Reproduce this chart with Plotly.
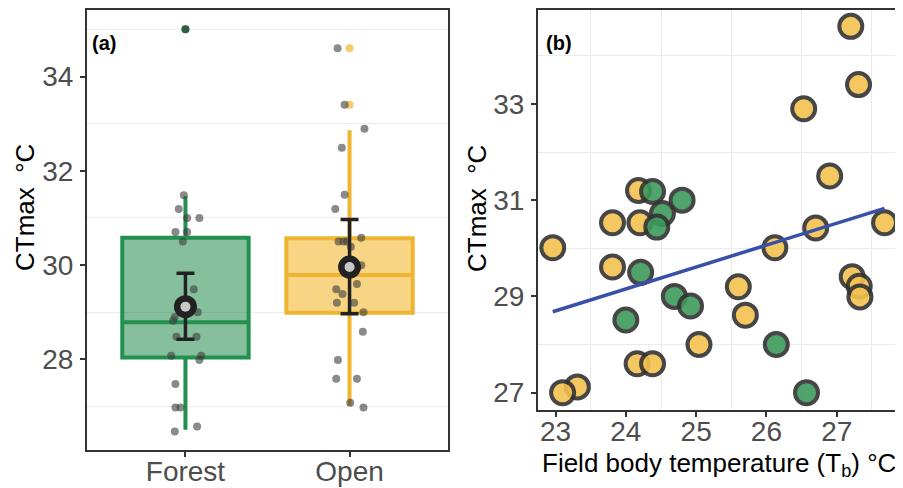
import plotly.graph_objects as go

# ---------------- Panel (a) data ----------------
habitats = ["Forest", "Open"]
habitat_pos = [1, 2]
box_q1 = [28.04, 28.99]
box_median = [28.79, 29.79]
box_q3 = [30.58, 30.57]
box_lower = [26.51, 27.02]
box_upper = [31.46, 32.86]
outlier_forest = [35.0]
outlier_open = [34.6, 33.4]
mean_ct = [29.12, 29.96]
mean_hi = [29.83, 30.97]
mean_lo = [28.43, 28.97]

forest_ct = [31.48, 31.19, 31.0, 31.0, 30.70, 30.70, 30.5, 29.49, 29.0, 28.9, 28.82,
             28.48, 28.48, 28.08, 27.99, 28.08, 27.48, 26.98, 26.98, 26.58, 26.47, 35.0]
forest_jitter = [-0.010, -0.041, 0.010, 0.085, -0.061, 0.010, -0.016, 0.051, 0.075, -0.065, -0.075,
                 -0.055, 0.067, -0.087, 0.085, 0.096, -0.061, -0.061, -0.030, 0.071, -0.065, 0.0]
open_ct = [34.6, 33.4, 32.89, 32.49, 31.49, 31.19, 30.58, 30.5, 30.5, 30.5, 30.39, 30.0,
           29.6, 29.49, 29.39, 29.2, 29.2, 29.0, 28.59, 27.99, 27.59, 27.59, 27.08, 26.98]
open_jitter = [-0.073, -0.030, 0.091, -0.047, -0.030, -0.087, 0.071, -0.067, -0.037, -0.016, 0.008, 0.071,
               0.045, -0.081, -0.043, -0.077, 0.028, 0.085, 0.081, -0.071, -0.081, 0.045, 0.004, 0.085]

# ---------------- Panel (b) data ----------------
tb = [27.2, 27.31, 26.53, 26.9, 24.18, 24.38, 24.8, 24.52, 23.81, 24.2, 24.44, 27.68, 26.7,
      22.96, 26.12, 23.81, 24.21, 25.6, 27.22, 27.32, 27.33, 24.69, 24.92, 24.0, 25.7, 25.04,
      26.14, 24.16, 24.38, 23.31, 23.1, 26.57]
ctmax = [34.61, 33.4, 32.9, 31.5, 31.2, 31.18, 31.0, 30.72, 30.53, 30.53, 30.44, 30.53, 30.42,
         30.01, 30.01, 29.61, 29.5, 29.2, 29.41, 29.21, 28.99, 29.0, 28.8, 28.51, 28.61, 28.0,
         28.0, 27.6, 27.6, 27.12, 27.0, 27.0]
hab_b = ["Open", "Open", "Open", "Open", "Open", "Forest", "Forest", "Forest", "Open", "Open",
         "Forest", "Open", "Open", "Open", "Open", "Open", "Forest", "Open", "Open", "Open",
         "Open", "Forest", "Forest", "Forest", "Open", "Open", "Forest", "Open", "Open", "Open",
         "Open", "Forest"]
fit_intercept = 18.235
fit_slope = 0.455

GREEN = "#22914F"
GREEN_FILL = "rgba(34,139,72,0.55)"
YELLOW = "#F0B530"
YELLOW_FILL = "rgba(243,185,50,0.6)"
PT_GREEN = "#3C9A5C"
PT_YELLOW = "#F3C24F"
FONT = "Liberation Sans, Arial, sans-serif"

fig = go.Figure()

line_cols = [GREEN, YELLOW]
fill_cols = [GREEN_FILL, YELLOW_FILL]
for i in range(2):
    fig.add_trace(go.Box(
        x=[habitat_pos[i]], q1=[box_q1[i]], median=[box_median[i]], q3=[box_q3[i]],
        lowerfence=[box_lower[i]], upperfence=[box_upper[i]],
        width=0.77, whiskerwidth=0, boxpoints=False, line=dict(color=line_cols[i], width=4),
        fillcolor=fill_cols[i], xaxis="x", yaxis="y", showlegend=False, hoverinfo="skip"))

# outliers
fig.add_trace(go.Scatter(x=[habitat_pos[0]] * len(outlier_forest), y=outlier_forest, mode="markers",
                         marker=dict(color=GREEN, size=8), xaxis="x", yaxis="y", showlegend=False))
fig.add_trace(go.Scatter(x=[habitat_pos[1]] * len(outlier_open), y=outlier_open, mode="markers",
                         marker=dict(color=YELLOW, size=8, opacity=0.7), xaxis="x", yaxis="y", showlegend=False))

# jittered raw points
fig.add_trace(go.Scatter(x=[habitat_pos[0] + j for j in forest_jitter], y=forest_ct, mode="markers",
                         marker=dict(color="rgba(60,60,60,0.6)", size=8), xaxis="x", yaxis="y", showlegend=False))
fig.add_trace(go.Scatter(x=[habitat_pos[1] + j for j in open_jitter], y=open_ct, mode="markers",
                         marker=dict(color="rgba(60,60,60,0.6)", size=8), xaxis="x", yaxis="y", showlegend=False))

# mean + error bars
fig.add_trace(go.Scatter(
    x=habitat_pos, y=mean_ct, mode="markers",
    marker=dict(color="#222222", size=23),
    error_y=dict(type="data", symmetric=False,
                 array=[h - m for h, m in zip(mean_hi, mean_ct)],
                 arrayminus=[m - l for m, l in zip(mean_ct, mean_lo)],
                 color="#222222", thickness=3.5, width=9),
    xaxis="x", yaxis="y", showlegend=False))
fig.add_trace(go.Scatter(x=habitat_pos, y=mean_ct, mode="markers",
                         marker=dict(color="#C8C8C8", size=10), xaxis="x", yaxis="y", showlegend=False))

# panel (b) points
fig.add_trace(go.Scatter(
    x=tb, y=ctmax, mode="markers",
    marker=dict(color=[PT_GREEN if h == "Forest" else PT_YELLOW for h in hab_b], size=23, opacity=0.9,
                line=dict(color="#333333", width=4)),
    xaxis="x2", yaxis="y2", showlegend=False))
xfit = [min(tb), max(tb)]
fig.add_trace(go.Scatter(x=xfit, y=[fit_intercept + fit_slope * v for v in xfit], mode="lines",
                         line=dict(color="#3A50A8", width=3.5), xaxis="x2", yaxis="y2", showlegend=False))

W, H = 903, 488
OFF = 8  # page body margin


def px(x):
    return (x - OFF) / W


def py(y):
    return (H - (y - OFF)) / H


ax_common = dict(showline=True, mirror=True, linecolor="#333333", linewidth=2, ticks="outside",
                 ticklen=5, tickwidth=2, tickcolor="#333333", zeroline=False, showgrid=False,
                 automargin=False, tickfont=dict(family=FONT, size=28, color="#4D4D4D"))
minor = dict(showgrid=True, gridcolor="#EBEBEB", gridwidth=1, ticks="")
title_font = dict(family=FONT, size=26, color="black")

fig.update_layout(
    width=W, height=H, margin=dict(l=0, r=0, t=0, b=0),
    plot_bgcolor="white", paper_bgcolor="white",
    font=dict(family=FONT),
    xaxis=dict(domain=[px(87), px(448)], range=[0.4, 2.6], tickvals=habitat_pos, ticktext=habitats,
               anchor="y", ticklabelstandoff=-10, **ax_common),
    yaxis=dict(domain=[py(450), py(10)], range=[26.08, 35.41], tick0=28, dtick=2,
               minor=dict(dtick=1, **minor), anchor="x", ticklabelstandoff=1, **ax_common),
    xaxis2=dict(domain=[px(538), px(900)], range=[22.75, 27.9], tick0=23, dtick=1,
                minor=dict(dtick=0.5, **minor), anchor="y2", ticklabelstandoff=-10, **ax_common),
    yaxis2=dict(domain=[py(410), py(10)], range=[26.64, 34.95], tick0=27, dtick=2,
                minor=dict(dtick=1, **minor), anchor="x2", ticklabelstandoff=1, **ax_common),
    annotations=[
        dict(text="<b>(a)</b>", x=px(90), y=py(43), xref="paper", yref="paper",
             xanchor="left", yanchor="middle", showarrow=False, font=dict(family=FONT, size=20, color="black")),
        dict(text="<b>(b)</b>", x=px(544), y=py(43), xref="paper", yref="paper",
             xanchor="left", yanchor="middle", showarrow=False, font=dict(family=FONT, size=20, color="black")),
        dict(text="CTmax  °C", x=px(25), y=py(208), xref="paper", yref="paper", textangle=-90,
             xanchor="center", yanchor="middle", showarrow=False, font=title_font),
        dict(text="CTmax  °C", x=px(477), y=py(209), xref="paper", yref="paper", textangle=-90,
             xanchor="center", yanchor="middle", showarrow=False, font=title_font),
        dict(text="Field body temperature (T<sub>b</sub>) °C", x=px(719), y=py(464),
             xref="paper", yref="paper", xanchor="center", yanchor="middle", showarrow=False,
             font=title_font),
    ],
)

fig.write_html("out.html")
